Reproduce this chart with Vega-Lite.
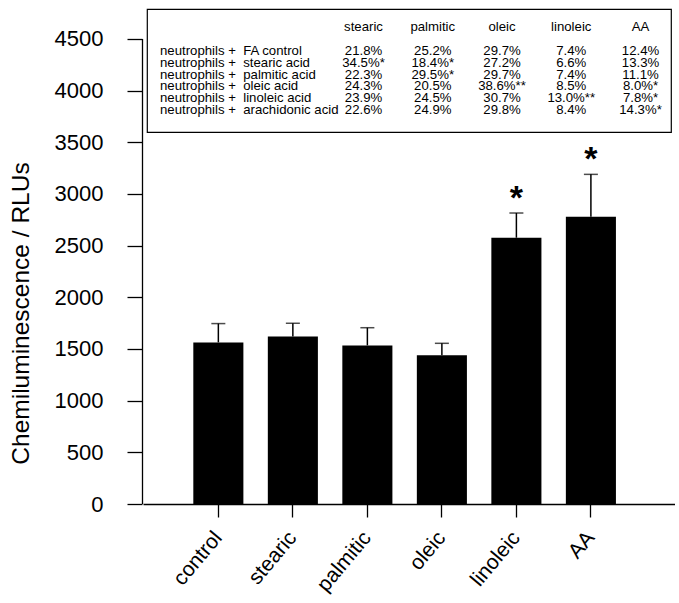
{
  "$schema": "https://vega.github.io/schema/vega-lite/v6.json",
  "background": "white",
  "padding": {"left": 8, "top": 8, "right": 0, "bottom": 0},
  "config": {
    "view": {"stroke": null},
    "font": "Liberation Sans",
    "axis": {"domainColor": "black", "tickColor": "black", "labelColor": "black", "titleColor": "black", "domainWidth": 1.3, "tickWidth": 1.3, "grid": false, "labelFont": "Liberation Sans", "titleFont": "Liberation Sans"},
    "text": {"font": "Liberation Sans", "color": "black"}
  },
  "datasets": {
    "bars": [
      {"group": "control", "mean": 1564, "upper": 1746, "sig": ""},
      {"group": "stearic", "mean": 1620, "upper": 1749, "sig": ""},
      {"group": "palmitic", "mean": 1535, "upper": 1706, "sig": ""},
      {"group": "oleic", "mean": 1439, "upper": 1555, "sig": ""},
      {"group": "linoleic", "mean": 2577, "upper": 2816, "sig": "*"},
      {"group": "AA", "mean": 2780, "upper": 3190, "sig": "*"}
    ],
    "axisline": [{"from": 0, "to": 4500}],
    "header": [
      {"col": "stearic"}, {"col": "palmitic"}, {"col": "oleic"}, {"col": "linoleic"}, {"col": "AA"}
    ],
    "rows": [
      {"row": "FA control", "label": "neutrophils +\u00a0 FA control"},
      {"row": "stearic acid", "label": "neutrophils +\u00a0 stearic acid"},
      {"row": "palmitic acid", "label": "neutrophils +\u00a0 palmitic acid"},
      {"row": "oleic acid", "label": "neutrophils +\u00a0 oleic acid"},
      {"row": "linoleic acid", "label": "neutrophils +\u00a0 linoleic acid"},
      {"row": "arachidonic acid", "label": "neutrophils +\u00a0 arachidonic acid"}
    ],
    "cells": [
      {"row": "FA control", "col": "stearic", "val": "21.8%"},
      {"row": "FA control", "col": "palmitic", "val": "25.2%"},
      {"row": "FA control", "col": "oleic", "val": "29.7%"},
      {"row": "FA control", "col": "linoleic", "val": "7.4%"},
      {"row": "FA control", "col": "AA", "val": "12.4%"},
      {"row": "stearic acid", "col": "stearic", "val": "34.5%*"},
      {"row": "stearic acid", "col": "palmitic", "val": "18.4%*"},
      {"row": "stearic acid", "col": "oleic", "val": "27.2%"},
      {"row": "stearic acid", "col": "linoleic", "val": "6.6%"},
      {"row": "stearic acid", "col": "AA", "val": "13.3%"},
      {"row": "palmitic acid", "col": "stearic", "val": "22.3%"},
      {"row": "palmitic acid", "col": "palmitic", "val": "29.5%*"},
      {"row": "palmitic acid", "col": "oleic", "val": "29.7%"},
      {"row": "palmitic acid", "col": "linoleic", "val": "7.4%"},
      {"row": "palmitic acid", "col": "AA", "val": "11.1%"},
      {"row": "oleic acid", "col": "stearic", "val": "24.3%"},
      {"row": "oleic acid", "col": "palmitic", "val": "20.5%"},
      {"row": "oleic acid", "col": "oleic", "val": "38.6%**"},
      {"row": "oleic acid", "col": "linoleic", "val": "8.5%"},
      {"row": "oleic acid", "col": "AA", "val": "8.0%*"},
      {"row": "linoleic acid", "col": "stearic", "val": "23.9%"},
      {"row": "linoleic acid", "col": "palmitic", "val": "24.5%"},
      {"row": "linoleic acid", "col": "oleic", "val": "30.7%"},
      {"row": "linoleic acid", "col": "linoleic", "val": "13.0%**"},
      {"row": "linoleic acid", "col": "AA", "val": "7.8%*"},
      {"row": "arachidonic acid", "col": "stearic", "val": "22.6%"},
      {"row": "arachidonic acid", "col": "palmitic", "val": "24.9%"},
      {"row": "arachidonic acid", "col": "oleic", "val": "29.8%"},
      {"row": "arachidonic acid", "col": "linoleic", "val": "8.4%"},
      {"row": "arachidonic acid", "col": "AA", "val": "14.3%*"}
    ]
  },
  "bounds": "flush",
  "spacing": 0,
  "hconcat": [
    {
      "width": 1,
      "height": 495,
      "data": {"name": "axisline"},
      "mark": {"type": "rule", "color": "black", "strokeWidth": 1.3},
      "encoding": {
        "y": {
          "field": "from", "type": "quantitative", "title": "Chemiluminescence / RLUs",
          "scale": {"domain": [0, 4790.3], "nice": false},
          "axis": {"values": [0, 500, 1000, 1500, 2000, 2500, 3000, 3500, 4000, 4500], "domain": false, "format": "d", "tickSize": 15, "labelPadding": 24, "labelFontSize": 22, "titleFontSize": 24.5, "titleFontWeight": "normal", "titleX": -121, "titleY": 304, "titleBaseline": "middle", "titleAlign": "center"}
        },
        "y2": {"field": "to"}
      }
    },
    {
      "bounds": "flush",
      "center": true,
      "spacing": 0,
      "vconcat": [
        {
          "width": 524,
          "height": 123,
          "view": {"stroke": "black", "strokeWidth": 1.2},
          "layer": [
            {
              "data": {"name": "cells"},
              "mark": {"type": "text", "fontSize": 13.2, "align": "center", "baseline": "middle"},
              "encoding": {
                "x": {"field": "col", "type": "nominal", "scale": {"type": "point", "domain": ["stearic", "palmitic", "oleic", "linoleic", "AA"], "padding": 0, "range": [216.5, 493.5]}, "axis": null},
                "y": {"field": "row", "type": "nominal", "scale": {"type": "point", "domain": ["header", "gap", "FA control", "stearic acid", "palmitic acid", "oleic acid", "linoleic acid", "arachidonic acid"], "padding": 0, "range": [18.3, 101]}, "axis": null},
                "text": {"field": "val"}
              }
            },
            {
              "data": {"name": "header"},
              "mark": {"type": "text", "fontSize": 13.2, "align": "center", "baseline": "middle"},
              "encoding": {
                "x": {"field": "col", "type": "nominal"},
                "y": {"datum": "header", "type": "nominal"},
                "text": {"field": "col"}
              }
            },
            {
              "data": {"name": "rows"},
              "mark": {"type": "text", "fontSize": 13.2, "align": "left", "baseline": "middle", "dx": -203.5},
              "encoding": {
                "x": {"datum": "stearic", "type": "nominal"},
                "y": {"field": "row", "type": "nominal"},
                "text": {"field": "label"}
              }
            }
          ]
        },
        {
          "width": 532,
          "height": 372,
          "data": {"name": "bars"},
          "encoding": {
            "x": {
              "field": "group", "type": "nominal", "sort": null,
              "scale": {"type": "band", "paddingInner": 0.328, "paddingOuter": 0.734, "align": 0.46},
              "axis": {"title": null, "labelAngle": -50, "labelFontSize": 21, "tickSize": 13, "labelPadding": 17}
            }
          },
          "layer": [
            {
              "mark": {"type": "bar", "color": "black"},
              "encoding": {
                "y": {"field": "mean", "type": "quantitative", "scale": {"domain": [0, 3600], "nice": false}, "axis": null}
              }
            },
            {
              "mark": {"type": "rule", "color": "black", "strokeWidth": 1.5},
              "encoding": {
                "y": {"field": "mean", "type": "quantitative"},
                "y2": {"field": "upper"}
              }
            },
            {
              "mark": {"type": "tick", "color": "black", "size": 14, "thickness": 1.5},
              "encoding": {
                "y": {"field": "upper", "type": "quantitative"}
              }
            },
            {
              "mark": {"type": "text", "fontSize": 34, "fontWeight": "bold", "baseline": "alphabetic", "align": "center", "dy": -4},
              "encoding": {
                "y": {"field": "upper", "type": "quantitative"},
                "text": {"field": "sig"}
              }
            }
          ]
        }
      ]
    }
  ]
}
